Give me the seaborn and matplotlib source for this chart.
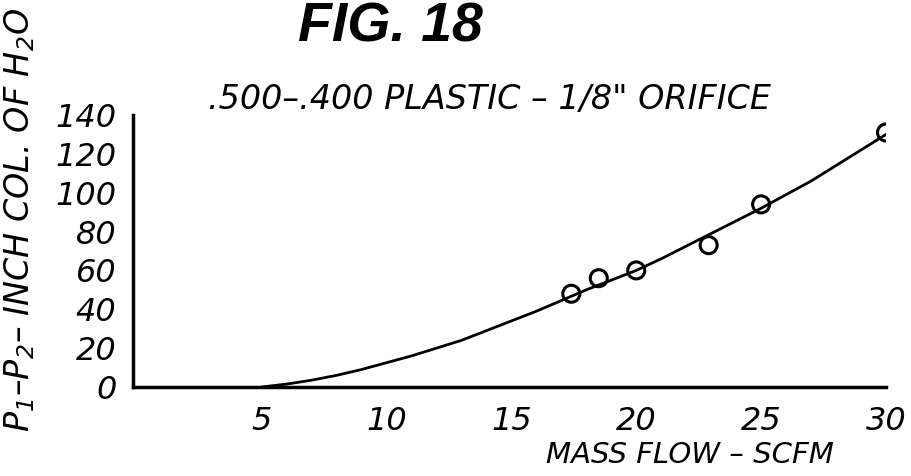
import matplotlib
matplotlib.use("Agg")
import matplotlib.pyplot as plt
import seaborn as sns
import pandas as pd

# =========================
# DATA
# =========================
curve_flow = [5, 6, 7, 8, 9, 10, 11, 12, 13, 14, 15, 16, 17, 18, 19, 20,
              21, 22, 23, 24, 25, 26, 27, 28, 29, 30]
curve_dp = [0, 1.5, 3.5, 6, 9, 12.5, 16, 20, 24, 29, 34, 39, 44.5, 50, 55, 60,
            66, 72.5, 79, 85.5, 92, 99, 106, 114, 122, 130]

meas_flow = [17.4, 18.5, 20.0, 22.9, 25.0, 30.0]
meas_dp = [48, 56, 60, 73, 94, 131]

x_ticks = [5, 10, 15, 20, 25, 30]
y_ticks = [0, 20, 40, 60, 80, 100, 120, 140]

curve = pd.DataFrame({"flow": curve_flow, "dp": curve_dp})
meas = pd.DataFrame({"flow": meas_flow, "dp": meas_dp})

# =========================
# STYLE
# =========================
sns.set_theme(style="white")
plt.rcParams["font.family"] = ["DejaVu Sans"]
plt.rcParams["font.style"] = "italic"
plt.rcParams["text.color"] = "black"
plt.rcParams["mathtext.fontset"] = "custom"
plt.rcParams["mathtext.rm"] = "DejaVu Sans:italic"
plt.rcParams["mathtext.it"] = "DejaVu Sans:italic"

# =========================
# FIGURE
# =========================
fig = plt.figure(figsize=(9.12, 4.76), dpi=100)
ax = fig.add_axes([133 / 912, 1 - 387 / 476, (886 - 133) / 912, (387 - 115) / 476])

sns.lineplot(data=curve, x="flow", y="dp", color="black", linewidth=2, ax=ax)
sns.scatterplot(
    data=meas, x="flow", y="dp",
    marker="o", s=150, facecolor="none", edgecolor="black", linewidth=2.2,
    ax=ax, zorder=3
)

ax.set_xlim(-0.15, 30)
ax.set_ylim(0, 140)
ax.set_xticks(x_ticks)
ax.set_yticks(y_ticks)
ax.tick_params(axis="both", direction="out", length=7, width=2, color="black",
               labelsize=23, labelcolor="black", pad=5)
ax.tick_params(axis="x", pad=7)
for lab in ax.get_xticklabels() + ax.get_yticklabels():
    lab.set_fontstyle("italic")

for side in ["top", "right"]:
    ax.spines[side].set_visible(False)
for side in ["left", "bottom"]:
    ax.spines[side].set_color("black")
    ax.spines[side].set_linewidth(2.5)

ax.set_xlabel("")
ax.set_ylabel("")

# =========================
# TEXT
# =========================
fig.text(390 / 912, 1 - 27 / 476, "FIG. 18", fontsize=40, fontweight="bold",
         fontstyle="italic", family="Liberation Sans", ha="center", va="center")
fig.text(490 / 912, 1 - 99 / 476, '.500\u2013.400 PLASTIC \u2013 1/8" ORIFICE',
         fontsize=24, fontstyle="italic", ha="center", va="center")
fig.text(690 / 912, 1 - 455 / 476, "MASS FLOW \u2013 SCFM", fontsize=21,
         fontstyle="italic", ha="center", va="center")
fig.text(20 / 912, 1 - 220 / 476, "P$_1$\u2013P$_2$\u2013 INCH COL. OF H$_2$O",
         fontsize=24, fontstyle="italic", rotation=90, ha="center", va="center")

plt.savefig("out.png", dpi=100)
